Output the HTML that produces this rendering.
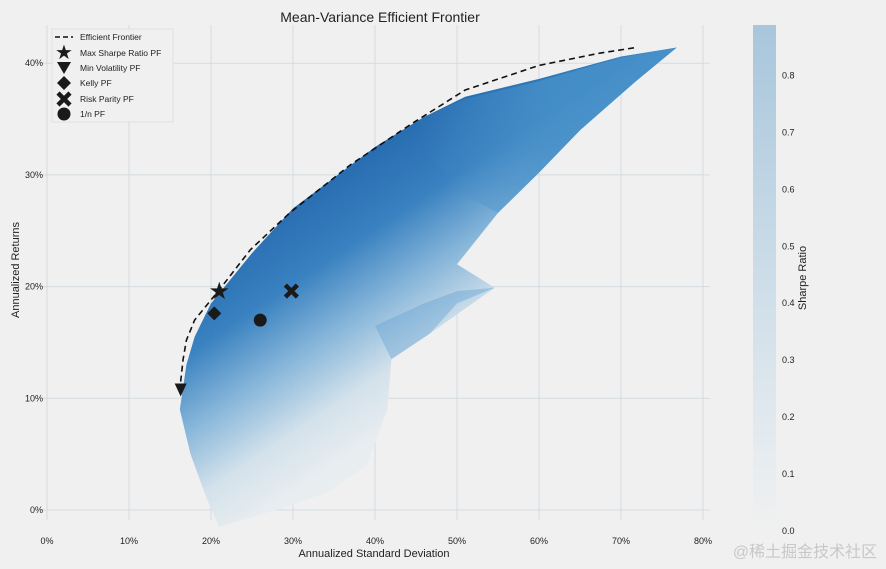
<!DOCTYPE html>
<html><head><meta charset="utf-8"><style>
html,body{margin:0;padding:0;background:#f0f0f0;}
svg{display:block;font-family:"Liberation Sans","DejaVu Sans",sans-serif;}
</style></head><body>
<svg id="chart" width="886" height="569" viewBox="0 0 886 569">
<defs>
<linearGradient id="cloudGrad" gradientUnits="userSpaceOnUse" x1="190" y1="260" x2="330" y2="470">
<stop offset="0" stop-color="#1b63ab"/>
<stop offset="0.3" stop-color="#2f7bbd"/>
<stop offset="0.55" stop-color="#80b2d8"/>
<stop offset="0.8" stop-color="#d2e1eb"/>
<stop offset="1" stop-color="#e8edf0"/>
</linearGradient>
<linearGradient id="lobeGrad" x1="0" y1="0" x2="1" y2="1">
<stop offset="0" stop-color="#6aa5d3"/>
<stop offset="1" stop-color="#b9d3e6"/>
</linearGradient>
<linearGradient id="bandGrad" gradientUnits="userSpaceOnUse" x1="420" y1="150" x2="560" y2="120">
<stop offset="0" stop-color="#4690c9" stop-opacity="0"/>
<stop offset="1" stop-color="#4690c9" stop-opacity="0.85"/>
</linearGradient>
<linearGradient id="cbGrad" x1="0" y1="1" x2="0" y2="0">
<stop offset="0" stop-color="#f0f0f0"/>
<stop offset="0.15" stop-color="#e6ecf0"/>
<stop offset="0.5" stop-color="#cddde8"/>
<stop offset="1" stop-color="#a8c6dc"/>
</linearGradient>
</defs>
<text x="380" y="22" font-size="14" text-anchor="middle" fill="#222">Mean-Variance Efficient Frontier</text>
<g id="grid"></g>
<g id="cloud"></g>
<g id="frontier"></g>
<g id="markers"></g>
<g id="axes"></g>
<text x="374" y="557" font-size="11" text-anchor="middle" fill="#222">Annualized Standard Deviation</text>
<text x="19" y="270" font-size="11" text-anchor="middle" fill="#222" transform="rotate(-90 19 270)">Annualized Returns</text>
<g>
<rect x="753" y="25" width="23" height="507" fill="url(#cbGrad)"/>
<g id="cbticks"></g>
<text x="806" y="278" font-size="11" text-anchor="middle" fill="#222" transform="rotate(-90 806 278)">Sharpe Ratio</text>
</g>
<g>
<rect x="52" y="29" width="121" height="93" fill="#f0f0f0" stroke="#dcdcdc" stroke-width="0.8"/>
<g><line x1="55" y1="37" x2="73" y2="37" stroke="#111" stroke-width="1.5" stroke-dasharray="5,3"/><text x="80" y="40" font-size="8.5" fill="#222">Efficient Frontier</text></g>
<g><text x="64" y="59" font-size="20" text-anchor="middle" fill="#1a1a1a">★</text><text x="80" y="56" font-size="8.5" fill="#222">Max Sharpe Ratio PF</text></g>
<g><polygon points="57,62 71,62 64,74" fill="#1a1a1a"/><text x="80" y="71" font-size="8.5" fill="#222">Min Volatility PF</text></g>
<g><polygon points="64,76 71,83 64,90 57,83" fill="#1a1a1a"/><text x="80" y="86" font-size="8.5" fill="#222">Kelly PF</text></g>
<g><path d="M58,93 L70,105 M70,93 L58,105" stroke="#1a1a1a" stroke-width="4.5"/><text x="80" y="102" font-size="8.5" fill="#222">Risk Parity PF</text></g>
<g><circle cx="64" cy="114" r="6.5" fill="#1a1a1a"/><text x="80" y="117" font-size="8.5" fill="#222">1/n PF</text></g>
</g>
<text x="805" y="557" font-size="16" text-anchor="middle" fill="#c8c8c8" font-family="'Liberation Sans','Noto Sans CJK SC',sans-serif">@稀土掘金技术社区</text>
</svg>
<script>
const xTicks=[0,10,20,30,40,50,60,70,80];
const yTicks=[0,10,20,30,40];
const cbTicks=[0.0,0.1,0.2,0.3,0.4,0.5,0.6,0.7,0.8];
const frontierSd=[16.3,16.6,17.0,18.0,21.0,24.8,29.6,37.0,44.3,51.0,60.0,67.4,71.8];
const frontierRet=[11.5,13.5,15.2,17.0,19.7,23.3,26.6,30.9,34.5,37.6,39.8,40.9,41.4];
const markerNames=["max-sharpe-marker","min-volatility-marker","kelly-marker","risk-parity-marker","equal-weight-marker"];
const markerSd=[21.0,16.3,20.4,29.8,26.0];
const markerRet=[19.6,10.7,17.6,19.6,17.0];
const cloudSd=[16.2,17,18,20,25,30,40,46,51,60,70,76.8,72,65,60,55,52.4,50,54.6,46.7,42,41.5,39,34,28,21,19.5,17.5];
const cloudRet=[9,13,15.5,18.5,23,27,32.5,35.2,37,38.6,40.6,41.4,38.5,34,30.2,26.6,24.2,22,19.9,15.8,13.5,9,4,1.5,0,-1.5,1,5];
const bandSd=[44,51,60,70,76.8,72,65,60,55,50];
const bandRet=[34.5,36.8,38.4,40.5,41.4,38.5,34,30.2,26.6,28.5];
const lobeSd=[40,46,50,54.6,50,46.7,42];
const lobeRet=[16.5,18.5,19.6,19.9,18.5,15.8,13.5];
const NS="http://www.w3.org/2000/svg";
const X=v=>47+v*8.2, Y=v=>510-v*11.17, CB=v=>531-v*569.5;
function mk(t,a,p){const e=document.createElementNS(NS,t);for(const k in a)e.setAttribute(k,a[k]);p.appendChild(e);return e;}
const pts=(sx,sy)=>sx.map((s,i)=>X(s)+','+Y(sy[i])).join(' ');
const grid=document.getElementById('grid'),axes=document.getElementById('axes');
xTicks.forEach(t=>{
 const l=mk('line',{x1:X(t),x2:X(t),y1:25,y2:520,stroke:'#d3dbe0','stroke-width':1},grid);
 
 
 const tx=mk('text',{x:X(t),y:544,'font-size':9,'text-anchor':'middle',fill:'#222'},axes);
 tx.textContent=t+'%';
 
 
});
yTicks.forEach(t=>{
 const l=mk('line',{x1:40,x2:710,y1:Y(t),y2:Y(t),stroke:'#d3dbe0','stroke-width':1},grid);
 
 
 const tx=mk('text',{x:43,y:Y(t)+3,'font-size':9,'text-anchor':'end',fill:'#222'},axes);
 tx.textContent=t+'%';
 
 
});
const cbt=document.getElementById('cbticks');
cbTicks.forEach(t=>{
 const tx=mk('text',{x:782,y:CB(t)+3,'font-size':9,fill:'#222'},cbt);
 tx.textContent=t.toFixed(1);
 
 
});
const cloud=document.getElementById('cloud');
const c1=mk('polygon',{points:pts(cloudSd,cloudRet),fill:'url(#cloudGrad)',opacity:0.95},cloud);


const c3=mk('polygon',{points:pts(bandSd,bandRet),fill:'url(#bandGrad)'},cloud);


const c2=mk('polygon',{points:pts(lobeSd,lobeRet),fill:'url(#lobeGrad)',opacity:0.8},cloud);


const fr=document.getElementById('frontier');
const fl=mk('polyline',{points:pts(frontierSd,frontierRet),fill:'none',stroke:'#111','stroke-width':1.6,'stroke-dasharray':'6,4'},fr);


const mg=document.getElementById('markers');
markerNames.forEach((n,i)=>{
 const x=X(markerSd[i]),y=Y(markerRet[i]);let e;
 if(i===0){e=mk('text',{x:x,y:y+8,'font-size':24,'text-anchor':'middle',fill:'#1a1a1a'},mg);e.textContent='★';}
 else if(i===1){e=mk('polygon',{points:`${x-6},${y-7} ${x+6},${y-7} ${x},${y+6}`,fill:'#1a1a1a'},mg);}
 else if(i===2){e=mk('polygon',{points:`${x},${y-7} ${x+7},${y} ${x},${y+7} ${x-7},${y}`,fill:'#1a1a1a'},mg);}
 else if(i===3){e=mk('path',{d:`M${x-6},${y-6} L${x+6},${y+6} M${x+6},${y-6} L${x-6},${y+6}`,stroke:'#1a1a1a','stroke-width':4.5},mg);}
 else {e=mk('circle',{cx:x,cy:y,r:6.5,fill:'#1a1a1a'},mg);}
 
 
});
</script>
</body></html>
